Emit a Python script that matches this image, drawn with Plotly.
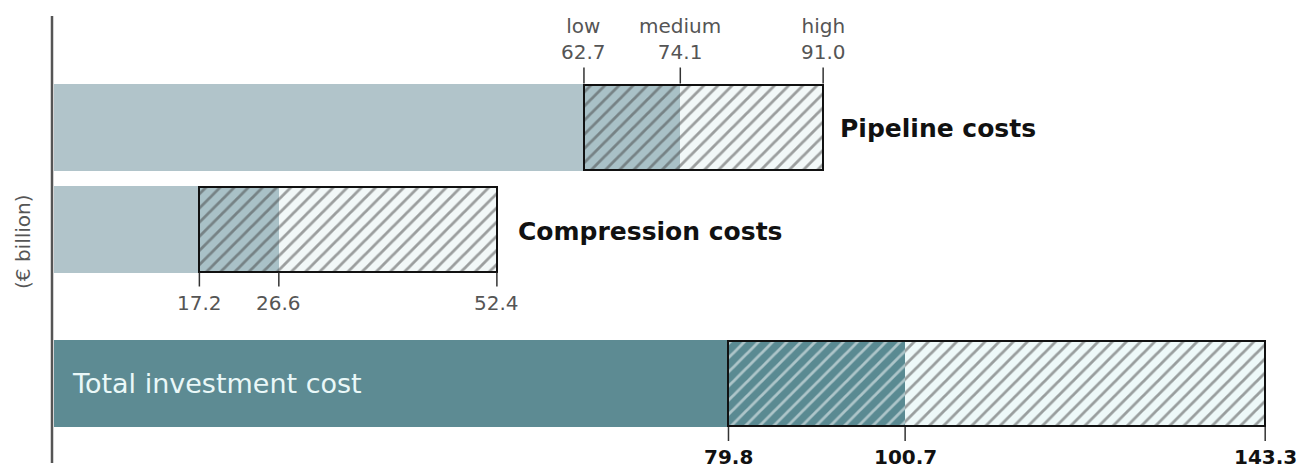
import plotly.graph_objects as go

# ---- data ----
categories = ["Pipeline costs", "Compression costs", "Total investment cost"]
low = [62.7, 17.2, 79.8]
medium = [74.1, 26.6, 100.7]
high = [91.0, 52.4, 143.3]
scenario_names = ["low", "medium", "high"]
unit_label = "(€ billion)"

# ---- layout helpers (pixel-like y units) ----
y_pos = [127, 229, 383.5]
bar_h = 87
solid_col = ["#b1c4ca", "#b1c4ca", "#5d8b93"]
dark_bg = ["#a9c1c7", "#a9c1c7", "#5a8a92"]
dark_fg = ["#7a9096", "#7a9096", "#2c4f55"]
light_bg = ["#f2f8f8", "#f2f8f8", "#eef9f9"]
light_fg = ["#9dabaf", "#9dabaf", "#42595d"]
FONT = "DejaVu Sans"
PAT = dict(shape="/", size=10, solidity=0.28, fillmode="overlay")

fig = go.Figure()
fig.add_trace(go.Bar(y=y_pos, x=low, base=[0] * 3, orientation="h", width=bar_h,
                     marker=dict(color=solid_col, line=dict(width=0)), hoverinfo="skip"))
fig.add_trace(go.Bar(y=y_pos, x=[m - l for m, l in zip(medium, low)], base=low, orientation="h",
                     width=bar_h,
                     marker=dict(color=dark_bg, line=dict(width=0),
                                 pattern=dict(PAT, fgcolor=dark_fg)),
                     hoverinfo="skip"))
fig.add_trace(go.Bar(y=y_pos, x=[h - m for h, m in zip(high, medium)], base=medium, orientation="h",
                     width=bar_h,
                     marker=dict(color=light_bg, line=dict(width=0),
                                 pattern=dict(PAT, fgcolor=light_fg)),
                     hoverinfo="skip"))
fig.add_trace(go.Bar(y=y_pos, x=[h - l for h, l in zip(high, low)], base=low, orientation="h",
                     width=bar_h - 2,
                     marker=dict(color="rgba(0,0,0,0)", line=dict(color="#111111", width=2)),
                     hoverinfo="skip"))

# tick marks at low / medium / high
tx, ty = [], []
for i in range(3):
    for v in (low[i], medium[i], high[i]):
        if i == 0:
            y0, y1 = y_pos[i] - bar_h / 2, y_pos[i] - bar_h / 2 - 16
        else:
            y0, y1 = y_pos[i] + bar_h / 2, y_pos[i] + bar_h / 2 + 14
        tx += [v, v, None]
        ty += [y0, y1, None]
fig.add_trace(go.Scatter(x=tx, y=ty, mode="lines", line=dict(color="#333333", width=1.5),
                         hoverinfo="skip"))

ann = []
GREY = "#555555"
# pipeline labels above (scenario name + value, two lines)
for j, v in enumerate([low[0], medium[0], high[0]]):
    ann.append(dict(x=v, y=39, text=f"{scenario_names[j]}<br>{v:.1f}", showarrow=False,
                    xanchor="center", yanchor="middle", align="center",
                    font=dict(family=FONT, size=20, color=GREY)))
# compression labels below
for v in (low[1], medium[1], high[1]):
    ann.append(dict(x=v, y=303, text=f"{v:.1f}", showarrow=False, xanchor="center",
                    yanchor="middle", font=dict(family=FONT, size=20, color=GREY)))
# total labels below
for v in (low[2], medium[2], high[2]):
    ann.append(dict(x=v, y=457, text=f"<b>{v:.1f}</b>", showarrow=False, xanchor="center",
                    yanchor="middle", font=dict(family=FONT, size=20, color="#111111")))
# category labels
ann.append(dict(x=high[0], y=y_pos[0] + 1, text=f"<b>{categories[0]}</b>", showarrow=False,
                xanchor="left", xshift=15, yanchor="middle",
                font=dict(family=FONT, size=25, color="#111111")))
ann.append(dict(x=high[1], y=y_pos[1] + 2, text=f"<b>{categories[1]}</b>", showarrow=False,
                xanchor="left", xshift=19, yanchor="middle",
                font=dict(family=FONT, size=25, color="#111111")))
ann.append(dict(x=0, y=y_pos[2], text=categories[2], showarrow=False,
                xanchor="left", xshift=16, yanchor="middle",
                font=dict(family=FONT, size=27, color="#eaf8f8")))
# unit label
ann.append(dict(xref="paper", x=-31 / 1245, y=242, text=unit_label, showarrow=False,
                textangle=-90, xanchor="center", yanchor="middle",
                font=dict(family=FONT, size=20, color=GREY)))

fig.update_layout(
    width=1301, height=468,
    margin=dict(l=54, r=2, t=0, b=0),
    paper_bgcolor="white", plot_bgcolor="white",
    barmode="overlay", showlegend=False, bargap=0,
    xaxis=dict(range=[0, 147.3], visible=False, fixedrange=True),
    yaxis=dict(range=[468, 0], visible=False, fixedrange=True),
    annotations=ann,
    shapes=[dict(type="line", xref="paper", yref="y", x0=-2 / 1245, x1=-2 / 1245, y0=16, y1=463,
                 line=dict(color="#555555", width=2.5), layer="above")],
)

fig.write_html("out.html")
